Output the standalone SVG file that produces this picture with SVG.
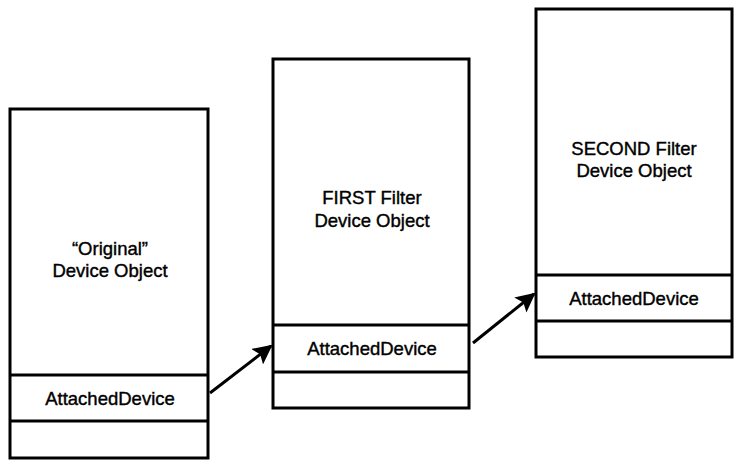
<svg xmlns="http://www.w3.org/2000/svg" width="742" height="466" viewBox="0 0 742 466">
<defs>
<style>
.box{fill:#fff;stroke:#000;stroke-width:3}
.div{stroke:#000;stroke-width:3}
.t{font-family:"Liberation Sans",Arial,sans-serif;font-size:18.5px;fill:#000;stroke:#000;stroke-width:0.4;text-anchor:middle}
.conn{stroke:#000;stroke-width:3;fill:none}
</style>
<marker id="ah" viewBox="0 0 10 10" refX="9" refY="5" markerWidth="6.5" markerHeight="6.5" orient="auto" markerUnits="strokeWidth">
<path d="M0,0 L10,5 L0,10 L2,5 Z" fill="#000"/>
</marker>
</defs>
<rect width="742" height="466" fill="#fff"/>
<g id="original">
<rect class="box" x="10" y="109" width="198" height="349"/>
<line class="div" x1="10" y1="375" x2="208" y2="375"/>
<line class="div" x1="10" y1="421" x2="208" y2="421"/>
<text class="t" x="110" y="255">“Original”</text>
<text class="t" x="110" y="277">Device Object</text>
<text class="t" x="110" y="405">AttachedDevice</text>
</g>
<g id="first">
<rect class="box" x="273" y="59" width="196" height="349"/>
<line class="div" x1="273" y1="325" x2="469" y2="325"/>
<line class="div" x1="273" y1="372" x2="469" y2="372"/>
<text class="t" x="372" y="204">FIRST Filter</text>
<text class="t" x="372" y="227">Device Object</text>
<text class="t" x="372" y="355">AttachedDevice</text>
</g>
<g id="second">
<rect class="box" x="536" y="9" width="196" height="348"/>
<line class="div" x1="536" y1="275" x2="732" y2="275"/>
<line class="div" x1="536" y1="321" x2="732" y2="321"/>
<text class="t" x="634" y="155">SECOND Filter</text>
<text class="t" x="634" y="177">Device Object</text>
<text class="t" x="634" y="305">AttachedDevice</text>
</g>
<g id="connectors">
<line class="conn" x1="210" y1="393" x2="271" y2="346" marker-end="url(#ah)"/>
<line class="conn" x1="473" y1="343" x2="534" y2="294" marker-end="url(#ah)"/>
</g>
</svg>
